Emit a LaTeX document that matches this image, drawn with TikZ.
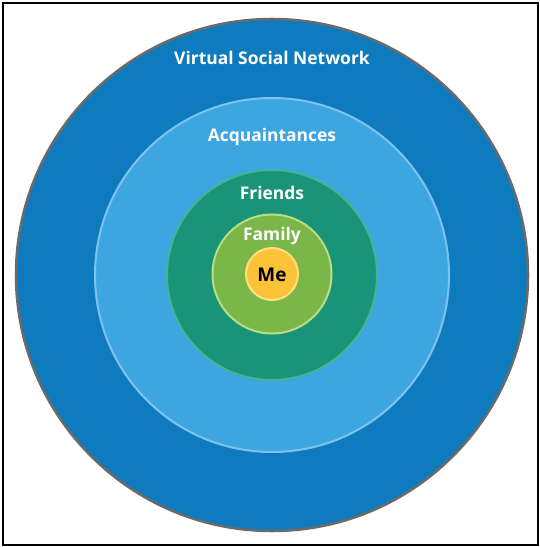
\documentclass[tikz,border=0pt]{standalone}
\usepackage{fontspec}
\setmainfont{Open Sans}
\definecolor{vsn}{HTML}{0E7BBE}
\definecolor{vsnb}{HTML}{6A6A6A}
\definecolor{acq}{HTML}{3DA5DF}
\definecolor{acqb}{HTML}{80C2EC}
\definecolor{fri}{HTML}{1A9478}
\definecolor{frib}{HTML}{45B394}
\definecolor{fam}{HTML}{7AB648}
\definecolor{famb}{HTML}{B8DE82}
\definecolor{me}{HTML}{FCC239}
\definecolor{meb}{HTML}{FFE07E}
\begin{document}
\begin{tikzpicture}[x=1bp,y=-1bp,
  ring/.style={circle,inner sep=0pt,minimum size=#1},
  lbl/.style={text=white,font=\bfseries\fontsize{17.5}{20}\selectfont,inner sep=0pt}]
\useasboundingbox (0,0) rectangle (540,547);
\fill[white] (0,0) rectangle (540,547);
\draw[line width=2.5bp,black] (3,3) rectangle (538,545);
\node[ring=512bp,fill=vsn,draw=vsnb,line width=2.5bp] (c1) at (272,275) {};
\node[ring=354bp,fill=acq,draw=acqb,line width=2bp] (c2) at (272,275) {};
\node[ring=210bp,fill=fri,draw=frib,line width=2bp] (c3) at (272,275) {};
\node[ring=119bp,fill=fam,draw=famb,line width=2bp] (c4) at (272,274) {};
\node[ring=52bp,fill=me,draw=meb,line width=2bp] (c5) at (272,274) {};
\node[lbl] (t1) at (272,58) {Virtual Social Network};
\node[lbl] (t2) at (272,136.5) {Acquaintances};
\node[lbl] (t3) at (272,193) {Friends};
\node[lbl] (t4) at (272,236) {Family};
\node[lbl,text=black,font=\bfseries\fontsize{19}{22}\selectfont] (t5) at (272,275) {Me};
\end{tikzpicture}
\end{document}
